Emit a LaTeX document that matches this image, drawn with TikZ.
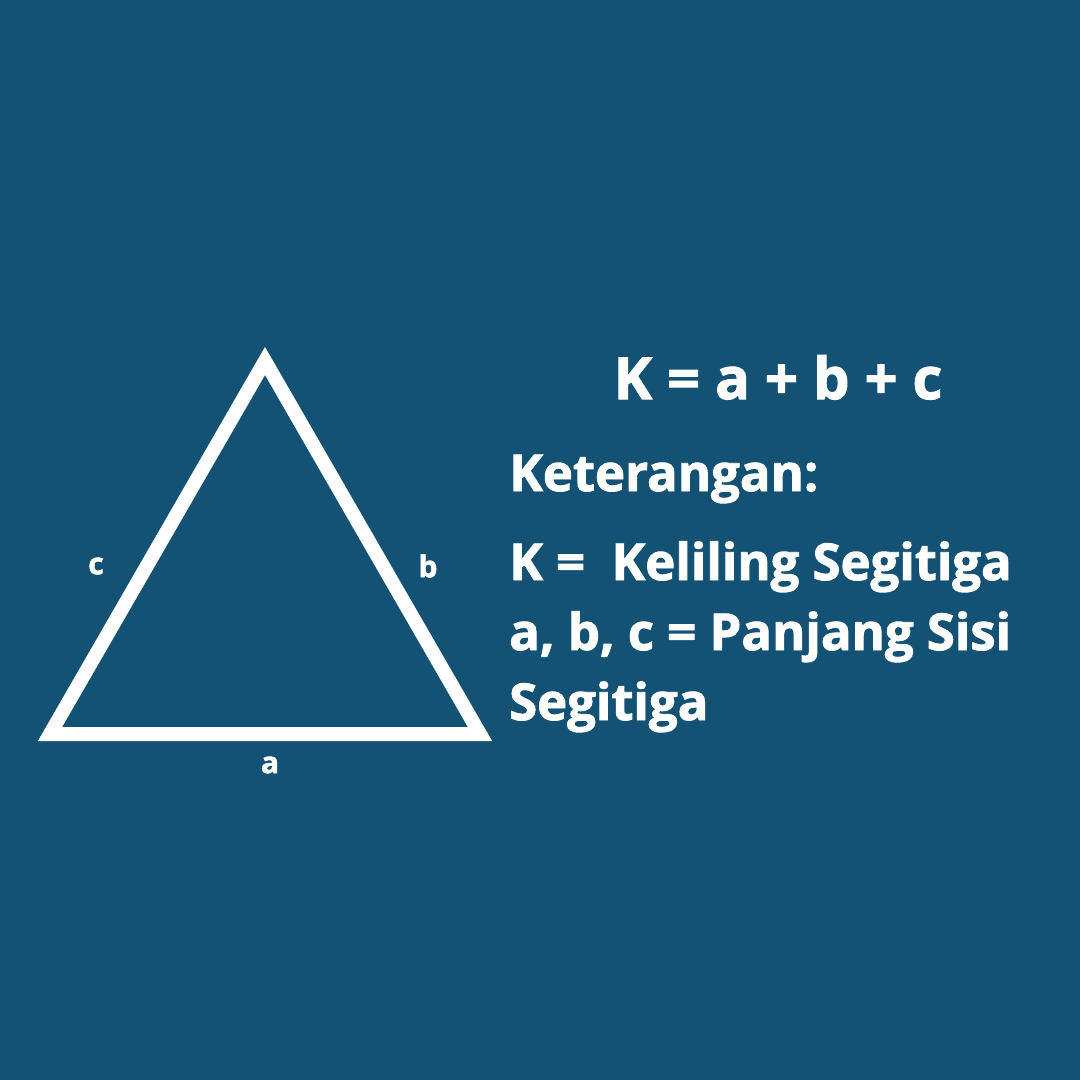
\documentclass[tikz,border=0pt]{standalone}
\usepackage{fontspec}
\setmainfont{Open Sans}[BoldFeatures={FakeBold=1.8}]
\definecolor{bg}{RGB}{19,82,116}
\tikzset{
  lbl/.style={text=white, font=\fontsize{30}{36}\selectfont\bfseries, inner sep=0pt},
  big/.style={text=white, font=\fontsize{51}{60}\selectfont\bfseries, inner sep=0pt, anchor=base west},
  tri/.style={draw=white, line width=14bp, line join=miter}
}
\begin{document}
\begin{tikzpicture}[x=1bp,y=-1bp]
\fill[bg] (0,0) rectangle (1080,1080);
\useasboundingbox (0,0) rectangle (1080,1080);
\coordinate (A) at (265,361);
\coordinate (B) at (50,734);
\coordinate (C) at (480,734);
\draw[tri] (A) -- (B) -- (C) -- cycle;
\node[lbl] (lc) at (96,566) {c};
\node[lbl] (lb) at (428,566) {b};
\node[lbl] (la) at (270,765) {a};
\node[text=white, font=\fontsize{58}{68}\selectfont\bfseries, inner sep=0pt, anchor=base] (f) at (778,399) {K = a + b + c};
\node[big] (k) at (509,491) {Keterangan:};
\node[big] (l1) at (509,580) {K =\ \ Keliling Segitiga};
\node[big] (l2) at (509,650) {a, b, c = Panjang Sisi};
\node[big] (l3) at (509,720) {Segitiga};
\end{tikzpicture}
\end{document}
